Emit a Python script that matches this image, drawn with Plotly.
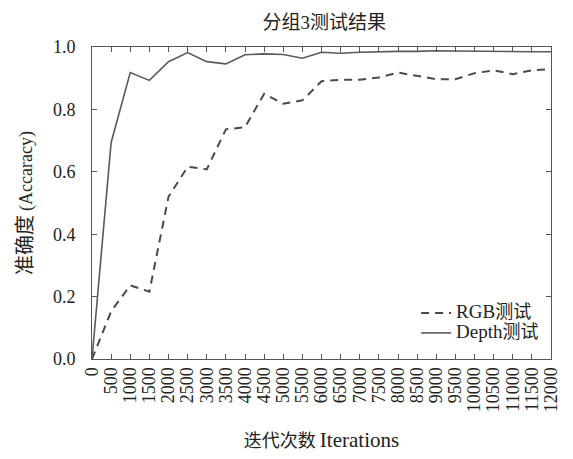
import plotly.graph_objects as go

iterations = list(range(0, 12001, 500))
rgb_acc = [0.0, 0.153, 0.236, 0.216, 0.52, 0.616, 0.608, 0.736, 0.743, 0.85,
           0.818, 0.829, 0.89, 0.895, 0.895, 0.902, 0.918, 0.908, 0.897, 0.897,
           0.916, 0.925, 0.913, 0.925, 0.929]
depth_acc = [0.0, 0.694, 0.918, 0.893, 0.953, 0.982, 0.953, 0.946, 0.975, 0.978,
             0.976, 0.964, 0.983, 0.98, 0.983, 0.985, 0.986, 0.986, 0.988, 0.987,
             0.986, 0.985, 0.985, 0.985, 0.985]
x_ticks = [str(v) for v in iterations]
y_vals = [0, 0.2, 0.4, 0.6, 0.8, 1.0]
y_ticks = ["0.0", "0.2", "0.4", "0.6", "0.8", "1.0"]

FONT = "Liberation Serif, Times New Roman, Noto Sans CJK SC, serif"
LINE = "#4a4a4a"


def sized(text, size):
    return f"<span style='font-size:{size}px'>{text}</span>"


fig = go.Figure()
fig.add_trace(go.Scatter(x=iterations, y=rgb_acc, mode="lines",
                         name=sized("RGB", 19) + sized("测试", 18),
                         line=dict(color=LINE, width=2, dash="8px,6px")))
fig.add_trace(go.Scatter(x=iterations, y=depth_acc, mode="lines",
                         name=sized("Depth", 19) + sized("测试", 18),
                         line=dict(color="#5a5a5a", width=1.6)))

axis_common = dict(showline=True, linecolor="#555", linewidth=1, mirror="ticks",
                   ticks="inside", ticklen=5, tickcolor="#555", showgrid=False,
                   zeroline=False, tickfont=dict(family=FONT, size=18, color="#222"))

fig.update_layout(
    width=573, height=459,
    margin=dict(l=92, r=13, t=47, b=98),
    paper_bgcolor="white", plot_bgcolor="white",
    font=dict(family=FONT, color="#222"),
    title=dict(text=sized("分组3测试结果", 19), x=0.566, xanchor="center",
               y=0.948, yanchor="middle", font=dict(family=FONT, size=16, color="#222")),
    xaxis=dict(range=[0, 12000], tickvals=iterations, ticktext=x_ticks, tickangle=-90,
               title=dict(text=sized("迭代次数", 18) + " " + sized("Iterations", 21),
                          font=dict(family=FONT, size=16), standoff=24),
               **axis_common),
    yaxis=dict(range=[0, 1.0], tickvals=y_vals, ticktext=y_ticks, ticklabelstandoff=12,
               title=dict(text=sized("准确度", 20) + " " + sized("(Accaracy)", 18),
                          font=dict(family=FONT, size=16), standoff=16),
               **axis_common),
    legend=dict(x=0.985, y=0.035, xanchor="right", yanchor="bottom",
                bgcolor="rgba(0,0,0,0)", font=dict(family=FONT, size=13, color="#222"),
                tracegroupgap=0, itemwidth=30),
    showlegend=True,
)

fig.write_html("out.html")
